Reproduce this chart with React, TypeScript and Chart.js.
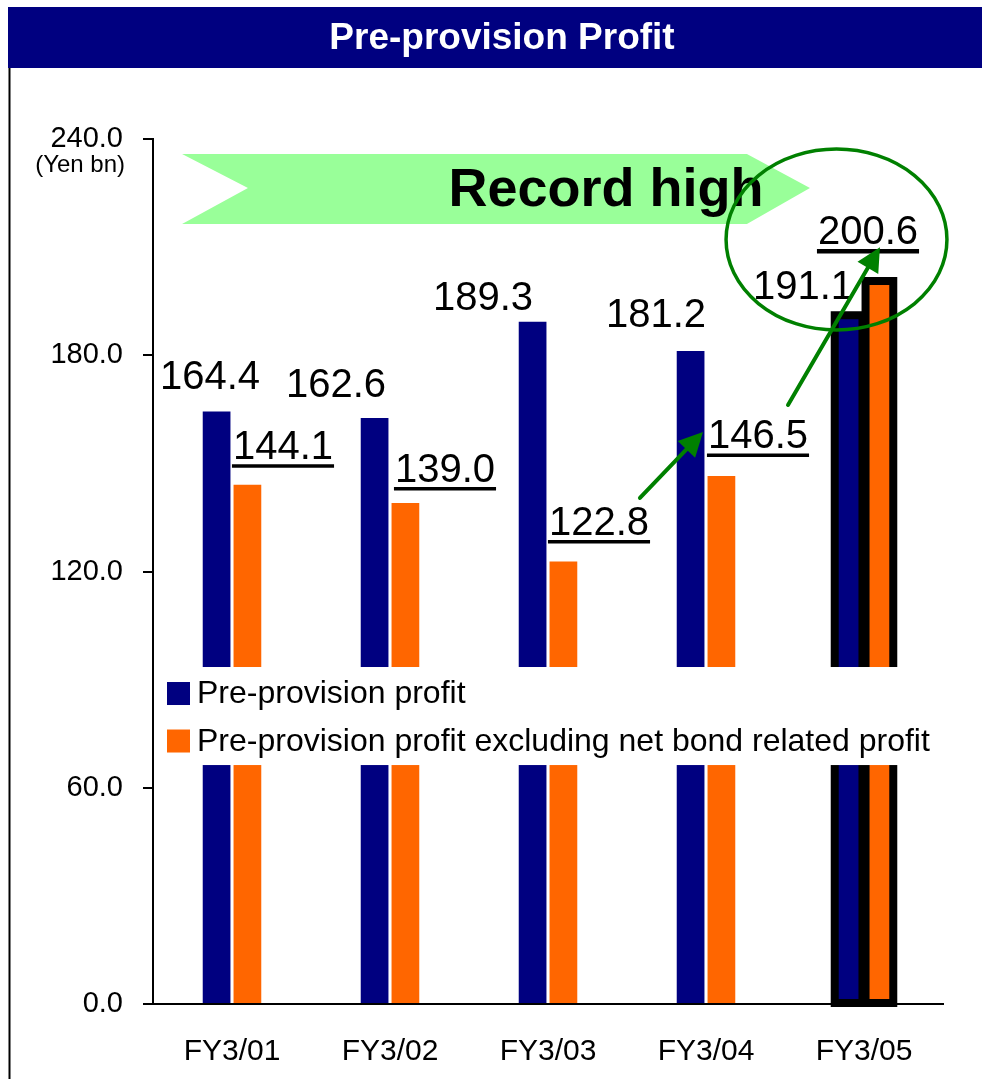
import React, { useEffect, useRef } from "react";
import { Chart, registerables } from "chart.js";

Chart.register(...registerables);

// ---- data ----
const categories = ["FY3/01", "FY3/02", "FY3/03", "FY3/04", "FY3/05"];
const preProvisionProfit = [164.4, 162.6, 189.3, 181.2, 191.1];
const excludingBondProfit = [144.1, 139.0, 122.8, 146.5, 200.6];
const yTickValues = [0, 60, 120, 180, 240];
const seriesNames = [
  "Pre-provision profit",
  "Pre-provision profit excluding net bond related profit",
];
const chartTitle = "Pre-provision Profit";
const unitLabel = "(Yen bn)";
const bannerText = "Record high";
const highlightIndex = 4;

// ---- styling / placement ----
const FONT = "'Liberation Sans', Arial, Helvetica, sans-serif";
const NAVY = "#000080";
const ORANGE = "#FF6600";
const GREEN = "#008000";
const BANNER_FILL = "#99FF99";

// value label offsets in px from (category centre, bar top)
const navyLabelOffsets = [
  [-22, -37],
  [-54, -35],
  [-65, -26],
  [-50, -38],
  [-61, -31],
];
const orangeLabelOffsets = [
  [51, -40],
  [55, -35.5],
  [51, -41],
  [52, -42],
  [4, -51],
];

// annotation geometry in (category position, value) space
const banner = { left: -0.316, notch: 0.101, shoulder: 3.259, tip: 3.658, top: 235.85, mid: 226.4, bottom: 216.4 };
const bannerTextPos = { c: 2.367, v: 226.9 };
const ellipse = { c: 3.826, v: 212.1, rc: 0.699, rv: 25.1 };
const arrows = [
  { from: [2.582, 140.4], to: [2.981, 158.7] },
  { from: [3.519, 166.2], to: [4.101, 210.0] },
];
const legendBand = { top: 93.5, bottom: 66.3 };

const chromePlugin = {
  id: "chrome",
  beforeDraw(chart: any) {
    const ctx = chart.ctx;
    ctx.save();
    ctx.fillStyle = "#ffffff";
    ctx.fillRect(0, 0, chart.width, chart.height);
    // title bar
    ctx.fillStyle = NAVY;
    ctx.fillRect(8, 7, chart.width - 8, 61);
    ctx.fillStyle = "#ffffff";
    ctx.font = `bold 37px ${FONT}`;
    ctx.textAlign = "center";
    ctx.textBaseline = "middle";
    ctx.fillText(chartTitle, 502, 39);
    // frame line
    ctx.strokeStyle = "#000";
    ctx.lineWidth = 2;
    ctx.beginPath();
    ctx.moveTo(9.5, 68);
    ctx.lineTo(9.5, chart.height);
    ctx.stroke();
    ctx.restore();
  },
};

const annotationPlugin = {
  id: "annotations",
  afterDatasetsDraw(chart: any) {
    const ctx = chart.ctx;
    const xs = chart.scales.x;
    const ys = chart.scales.y;
    const x0 = xs.getPixelForValue(0);
    const step = xs.getPixelForValue(1) - x0;
    const px = (c: number) => x0 + c * step;
    const py = (v: number) => ys.getPixelForValue(v);
    const area = chart.chartArea;

    ctx.save();

    // heavy outline around the latest year's bars
    chart.data.datasets.forEach((_: any, di: number) => {
      const el = chart.getDatasetMeta(di).data[highlightIndex];
      const p = el.getProps(["x", "y", "base", "width"], true);
      ctx.lineWidth = 8;
      ctx.strokeStyle = "#000";
      ctx.strokeRect(p.x - p.width / 2, p.y, p.width, p.base - p.y);
    });

    // legend panel
    const lt = py(legendBand.top);
    const lb = py(legendBand.bottom);
    ctx.fillStyle = "#fff";
    ctx.fillRect(area.left + 3, lt, area.right - area.left - 3, lb - lt);
    const colors = [NAVY, ORANGE];
    const rows = [lt + 26.5, lt + 74];
    ctx.font = `32px ${FONT}`;
    ctx.textAlign = "left";
    ctx.textBaseline = "middle";
    seriesNames.forEach((name, i) => {
      ctx.fillStyle = colors[i];
      ctx.fillRect(area.left + 14, rows[i] - 11.5, 23, 23);
      ctx.fillStyle = "#000";
      ctx.fillText(name, area.left + 44, rows[i] + 1);
    });

    // value labels
    const drawLabel = (text: string, cx: number, cy: number, underline: number) => {
      const size = 40;
      ctx.font = `${size}px ${FONT}`;
      ctx.textAlign = "center";
      ctx.textBaseline = "alphabetic";
      ctx.fillStyle = "#000";
      const base = cy + size * 0.358;
      ctx.fillText(text, cx, base);
      if (underline > 0) {
        const w = ctx.measureText(text).width;
        ctx.strokeStyle = "#000";
        ctx.lineWidth = underline;
        ctx.beginPath();
        ctx.moveTo(cx - w / 2 - 1, base + 7);
        ctx.lineTo(cx + w / 2 + 1, base + 7);
        ctx.stroke();
      }
    };
    categories.forEach((_, i) => {
      const cx = xs.getPixelForValue(i);
      const a = preProvisionProfit[i];
      drawLabel(a.toFixed(1), cx + navyLabelOffsets[i][0], py(a) + navyLabelOffsets[i][1], 0);
      const b = excludingBondProfit[i];
      drawLabel(
        b.toFixed(1),
        cx + orangeLabelOffsets[i][0],
        py(b) + orangeLabelOffsets[i][1],
        i === highlightIndex ? 4.5 : 3.5
      );
    });

    // "Record high" banner
    ctx.fillStyle = BANNER_FILL;
    ctx.beginPath();
    ctx.moveTo(px(banner.left), py(banner.top));
    ctx.lineTo(px(banner.shoulder), py(banner.top));
    ctx.lineTo(px(banner.tip), py(banner.mid));
    ctx.lineTo(px(banner.shoulder), py(banner.bottom));
    ctx.lineTo(px(banner.left), py(banner.bottom));
    ctx.lineTo(px(banner.notch), py(banner.mid));
    ctx.closePath();
    ctx.fill();
    ctx.fillStyle = "#000";
    ctx.font = `bold 54px ${FONT}`;
    ctx.textAlign = "center";
    ctx.textBaseline = "alphabetic";
    ctx.fillText(bannerText, px(bannerTextPos.c), py(bannerTextPos.v) + 54 * 0.358);

    // ring around the record value
    ctx.strokeStyle = GREEN;
    ctx.lineWidth = 3.5;
    ctx.beginPath();
    const ecx = px(ellipse.c);
    const ecy = py(ellipse.v);
    ctx.ellipse(ecx, ecy, ellipse.rc * step, Math.abs(py(0) - py(ellipse.rv)), 0, 0, Math.PI * 2);
    ctx.stroke();

    // trend arrows
    arrows.forEach((a) => {
      const sx = px(a.from[0]);
      const sy = py(a.from[1]);
      const tx = px(a.to[0]);
      const ty = py(a.to[1]);
      const ang = Math.atan2(ty - sy, tx - sx);
      const headLen = 24;
      const headHalf = 12;
      const bx = tx - headLen * Math.cos(ang);
      const by = ty - headLen * Math.sin(ang);
      ctx.strokeStyle = GREEN;
      ctx.fillStyle = GREEN;
      ctx.lineWidth = 4;
      ctx.lineCap = "round";
      ctx.beginPath();
      ctx.moveTo(sx, sy);
      ctx.lineTo(bx, by);
      ctx.stroke();
      ctx.beginPath();
      ctx.moveTo(tx, ty);
      ctx.lineTo(bx + headHalf * Math.sin(ang), by - headHalf * Math.cos(ang));
      ctx.lineTo(bx - headHalf * Math.sin(ang), by + headHalf * Math.cos(ang));
      ctx.closePath();
      ctx.fill();
    });

    // unit caption under the top tick
    ctx.fillStyle = "#000";
    ctx.font = `24px ${FONT}`;
    ctx.textAlign = "right";
    ctx.textBaseline = "middle";
    ctx.fillText(unitLabel, area.left - 28, py(yTickValues[yTickValues.length - 1]) + 26);

    ctx.restore();
  },
};

export default function App() {
  const canvasRef = useRef<HTMLCanvasElement>(null);

  useEffect(() => {
    const canvas = canvasRef.current;
    if (!canvas) return;
    const chart = new Chart(canvas, {
      type: "bar",
      data: {
        labels: categories,
        datasets: [
          {
            label: seriesNames[0],
            data: preProvisionProfit,
            backgroundColor: NAVY,
            borderWidth: 0,
            categoryPercentage: 0.39,
            barPercentage: 0.9,
          },
          {
            label: seriesNames[1],
            data: excludingBondProfit,
            backgroundColor: ORANGE,
            borderWidth: 0,
            categoryPercentage: 0.39,
            barPercentage: 0.9,
          },
        ],
      },
      options: {
        responsive: false,
        animation: false,
        devicePixelRatio: 1,
        layout: { padding: { top: 139, right: 39, bottom: 0, left: 0 } },
        plugins: {
          legend: { display: false },
          tooltip: { enabled: false },
          title: { display: false },
        },
        scales: {
          x: {
            grid: { display: false, drawTicks: false },
            border: { display: true, color: "#000", width: 2 },
            ticks: { color: "#000", font: { family: FONT, size: 30 }, padding: 30, maxRotation: 0 },
            afterFit(scale: any) {
              scale.height = 75;
            },
          },
          y: {
            min: 0,
            max: 240,
            afterBuildTicks(scale: any) {
              scale.ticks = yTickValues.map((v) => ({ value: v }));
            },
            grid: { drawOnChartArea: false, drawTicks: true, tickLength: 10, color: "#000", lineWidth: 2 },
            border: { display: true, color: "#000", width: 2 },
            ticks: {
              color: "#000",
              font: { family: FONT, size: 29 },
              padding: 20,
              callback: (v: any) => Number(v).toFixed(1),
            },
            afterFit(scale: any) {
              scale.width = 153;
            },
          },
        },
      },
      plugins: [chromePlugin, annotationPlugin],
    });
    return () => chart.destroy();
  }, []);

  return (
    <div style={{ position: "fixed", left: 0, top: 0, width: 982, height: 1079, background: "#fff" }}>
      <canvas ref={canvasRef} width={982} height={1079} style={{ display: "block" }} />
    </div>
  );
}
